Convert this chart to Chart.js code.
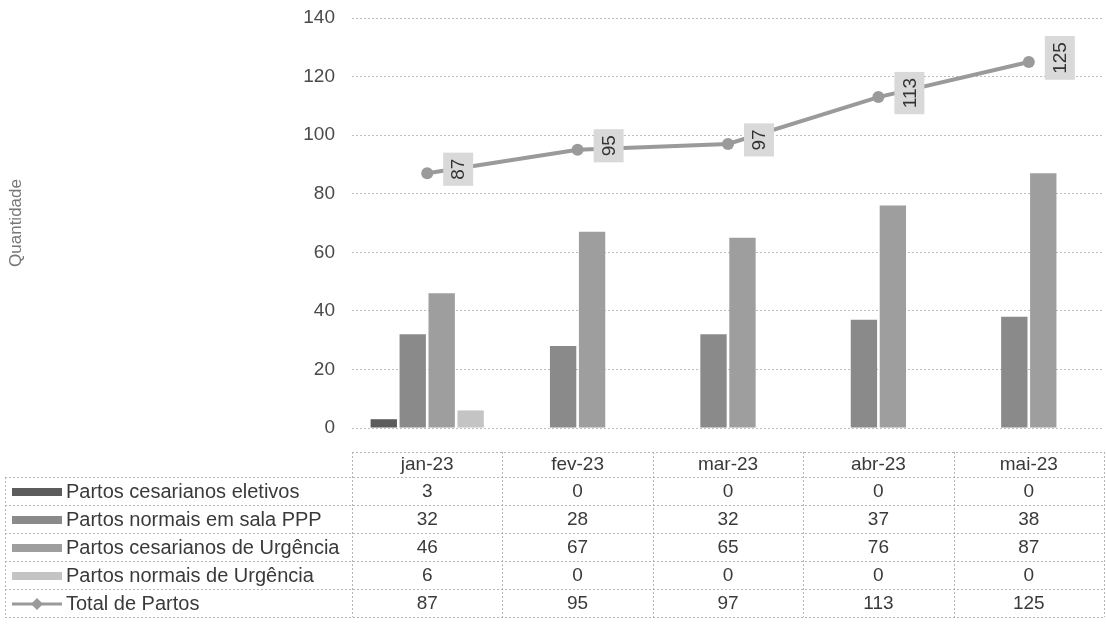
<!DOCTYPE html>
<html>
<head>
<meta charset="utf-8">
<script src="https://cdn.jsdelivr.net/npm/chart.js@4"></script>
<style>
  html, body { margin: 0; background: #fff; }
</style>
</head>
<body>
<canvas id="chart" width="1106" height="628"></canvas>
<script>
const MONTHS = ['jan-23', 'fev-23', 'mar-23', 'abr-23', 'mai-23'];
const CES_ELETIVOS = [3, 0, 0, 0, 0];
const NORMAIS_PPP = [32, 28, 32, 37, 38];
const CES_URGENCIA = [46, 67, 65, 76, 87];
const NORMAIS_URGENCIA = [6, 0, 0, 0, 0];
const TOTAL_PARTOS = [87, 95, 97, 113, 125];

const FONT = '"Liberation Sans", Arial, sans-serif';
const TEXT = '#3a3a3a';

// rotated value labels for the total line, boxed in light grey
const totalLabels = {
  id: 'totalLabels',
  afterDatasetsDraw(chart) {
    const idx = chart.data.datasets.findIndex(d => d.type === 'line');
    const meta = chart.getDatasetMeta(idx);
    const ctx = chart.ctx;
    ctx.save();
    ctx.font = '19px ' + FONT;
    meta.data.forEach((pt, i) => {
      const txt = String(chart.data.datasets[idx].data[i]);
      const w = ctx.measureText(txt).width;
      ctx.save();
      ctx.translate(pt.x + 31, pt.y - 4);
      ctx.rotate(-Math.PI / 2);
      ctx.fillStyle = '#d9d9d9';
      ctx.fillRect(-w / 2 - 6, -15, w + 12, 30);
      ctx.fillStyle = '#333';
      ctx.textAlign = 'center';
      ctx.textBaseline = 'middle';
      ctx.fillText(txt, 0, 1);
      ctx.restore();
    });
    ctx.restore();
  }
};

// data table under the plot, columns follow the chart area
const dataTable = {
  id: 'dataTable',
  afterDraw(chart) {
    const { ctx, chartArea: a } = chart;
    const n = chart.data.labels.length;
    const colW = (a.right - a.left) / n;
    const headTop = 452, rowTop = 477, rowH = 28, left = 5;
    const rows = chart.data.datasets;
    const bottom = rowTop + rows.length * rowH;

    ctx.save();
    ctx.strokeStyle = '#b4b4b4';
    ctx.lineWidth = 1;
    ctx.setLineDash([2, 2]);
    const hline = (x1, x2, y) => { ctx.beginPath(); ctx.moveTo(x1, y + 0.5); ctx.lineTo(x2, y + 0.5); ctx.stroke(); };
    const vline = (x, y1, y2) => { ctx.beginPath(); ctx.moveTo(x + 0.5, y1); ctx.lineTo(x + 0.5, y2); ctx.stroke(); };
    hline(a.left, a.right, headTop);
    for (let r = 0; r <= rows.length; r++) hline(left, a.right, rowTop + r * rowH);
    vline(left, rowTop, bottom);
    for (let c = 0; c <= n; c++) vline(Math.round(a.left + c * colW), headTop, bottom);
    ctx.setLineDash([]);

    ctx.font = '19px ' + FONT;
    ctx.fillStyle = TEXT;
    ctx.textAlign = 'center';
    ctx.textBaseline = 'middle';
    chart.data.labels.forEach((m, c) => ctx.fillText(m, a.left + (c + 0.5) * colW, headTop + 13));

    rows.forEach((ds, r) => {
      const cy = rowTop + r * rowH + rowH / 2 + 1;
      if (ds.type === 'line') {
        ctx.strokeStyle = ds.borderColor;
        ctx.lineWidth = 3;
        ctx.beginPath(); ctx.moveTo(12, cy); ctx.lineTo(62, cy); ctx.stroke();
        ctx.fillStyle = ds.borderColor;
        ctx.beginPath();
        ctx.moveTo(37, cy - 6); ctx.lineTo(43, cy); ctx.lineTo(37, cy + 6); ctx.lineTo(31, cy);
        ctx.closePath(); ctx.fill();
      } else {
        ctx.fillStyle = ds.backgroundColor;
        ctx.fillRect(12, cy - 4, 50, 8);
      }
      ctx.fillStyle = TEXT;
      ctx.textAlign = 'left';
      ctx.font = '20px ' + FONT;
      ctx.fillText(ds.label, 66, cy);
      ctx.textAlign = 'center';
      ctx.font = '19px ' + FONT;
      ds.data.forEach((v, c) => ctx.fillText(String(v), a.left + (c + 0.5) * colW, cy));
    });
    ctx.restore();
  }
};

const barOpts = { type: 'bar', order: 1, categoryPercentage: 0.77, barPercentage: 0.91 };

new Chart(document.getElementById('chart'), {
  data: {
    labels: MONTHS,
    datasets: [
      { ...barOpts, label: 'Partos cesarianos eletivos', data: CES_ELETIVOS, backgroundColor: '#5c5c5c' },
      { ...barOpts, label: 'Partos normais em sala PPP', data: NORMAIS_PPP, backgroundColor: '#8a8a8a' },
      { ...barOpts, label: 'Partos cesarianos de Urgência', data: CES_URGENCIA, backgroundColor: '#9e9e9e' },
      { ...barOpts, label: 'Partos normais de Urgência', data: NORMAIS_URGENCIA, backgroundColor: '#c4c4c4' },
      {
        type: 'line', order: 0, label: 'Total de Partos', data: TOTAL_PARTOS,
        borderColor: '#9a9a9a', backgroundColor: '#9a9a9a', borderWidth: 4,
        pointRadius: 6, pointStyle: 'circle', pointBorderWidth: 0, tension: 0
      }
    ]
  },
  options: {
    responsive: false,
    animation: false,
    layout: { autoPadding: false, padding: { top: 18, right: 2, bottom: 200, left: 0 } },
    plugins: { legend: { display: false }, tooltip: { enabled: false } },
    scales: {
      x: { display: false },
      y: {
        min: 0, max: 140,
        afterFit: s => { s.width = 352; s.paddingTop = 0; s.paddingBottom = 0; },
        border: { display: false, dash: [2, 2] },
        grid: { color: '#bdbdbd', drawTicks: false },
        ticks: { stepSize: 20, padding: 17, color: '#4a4a4a', font: { family: FONT, size: 19 } },
        title: { display: true, text: 'Quantidade', color: '#777', padding: { top: 6, bottom: 0 }, font: { family: FONT, size: 17 } }
      }
    }
  },
  plugins: [totalLabels, dataTable]
});
</script>
</body>
</html>
